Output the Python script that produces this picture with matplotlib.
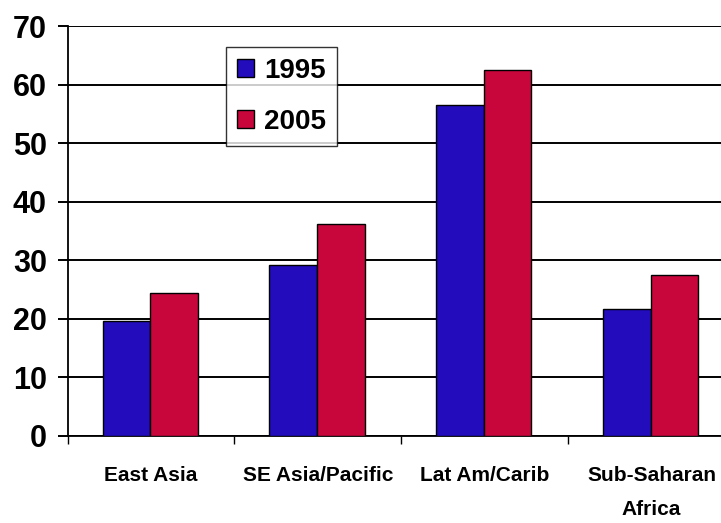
import matplotlib
matplotlib.use("Agg")
import matplotlib.pyplot as plt
import numpy as np
from matplotlib import font_manager

categories = ["East Asia", "SE Asia/Pacific", "Lat Am/Carib", "Sub-Saharan\nAfrica"]
series_names = ["1995", "2005"]
values_1995 = [19.6, 29.1, 56.5, 21.6]
values_2005 = [24.4, 36.1, 62.4, 27.5]
y_ticks = [0, 10, 20, 30, 40, 50, 60, 70]

names = {f.name for f in font_manager.fontManager.ttflist}
fam = "Liberation Sans Narrow" if "Liberation Sans Narrow" in names else "Liberation Sans"
plt.rcParams['font.family'] = [fam, 'DejaVu Sans']
plt.rcParams['font.weight'] = 'bold'

W, H = 721, 523
fig = plt.figure(figsize=(W / 100, H / 100), dpi=100)
left, right, top, bottom = 67.6, 735, 26, 435.7
ax = fig.add_axes([left / W, (H - bottom) / H, (right - left) / W, (bottom - top) / H])

x = np.arange(len(categories))
bw = 0.285
blue = "#220CBC"
red = "#C8063C"
ax.bar(x - bw / 2 - 0.005, values_1995, bw, color=blue, edgecolor="black", linewidth=1.0, label=series_names[0], zorder=3)
ax.bar(x + bw / 2 - 0.005, values_2005, bw, color=red, edgecolor="black", linewidth=1.0, label=series_names[1], zorder=3)

ax.set_xlim(-0.5, len(categories) - 0.5)
ax.set_ylim(0, 70)
ax.set_yticks(y_ticks)
ax.set_yticklabels([str(v) for v in y_ticks], fontsize=22, fontweight='bold')
ax.yaxis.grid(True, color="black", linewidth=1.4, zorder=0)
ax.set_axisbelow(True)

ax.set_xticks(x)
ax.set_xticklabels(categories, fontsize=15, fontweight='bold', linespacing=1.95)
ax.tick_params(axis='x', which='major', length=0, pad=22)
ax.set_xticks(np.arange(-0.5, len(categories) + 0.5, 1), minor=True)
ax.tick_params(axis='x', which='minor', length=6, width=1, direction='out')
ax.tick_params(axis='y', length=7, width=1.4, direction='out', pad=8)

for s in ["top", "right"]:
    ax.spines[s].set_visible(False)
ax.spines["left"].set_linewidth(1.3)
ax.spines["bottom"].set_linewidth(1.3)

leg = ax.legend(loc="upper left", bbox_to_anchor=(226 / W, 1 - 47 / H), bbox_transform=fig.transFigure,
                prop={'weight': 'bold', 'size': 20}, frameon=True, fancybox=False,
                handlelength=0.62, handleheight=0.62, handletextpad=0.36, labelspacing=0.9,
                borderpad=0.4, borderaxespad=0)
leg.get_frame().set_edgecolor("black")
leg.get_frame().set_linewidth(1.0)

fig.savefig("out.png", dpi=100)
